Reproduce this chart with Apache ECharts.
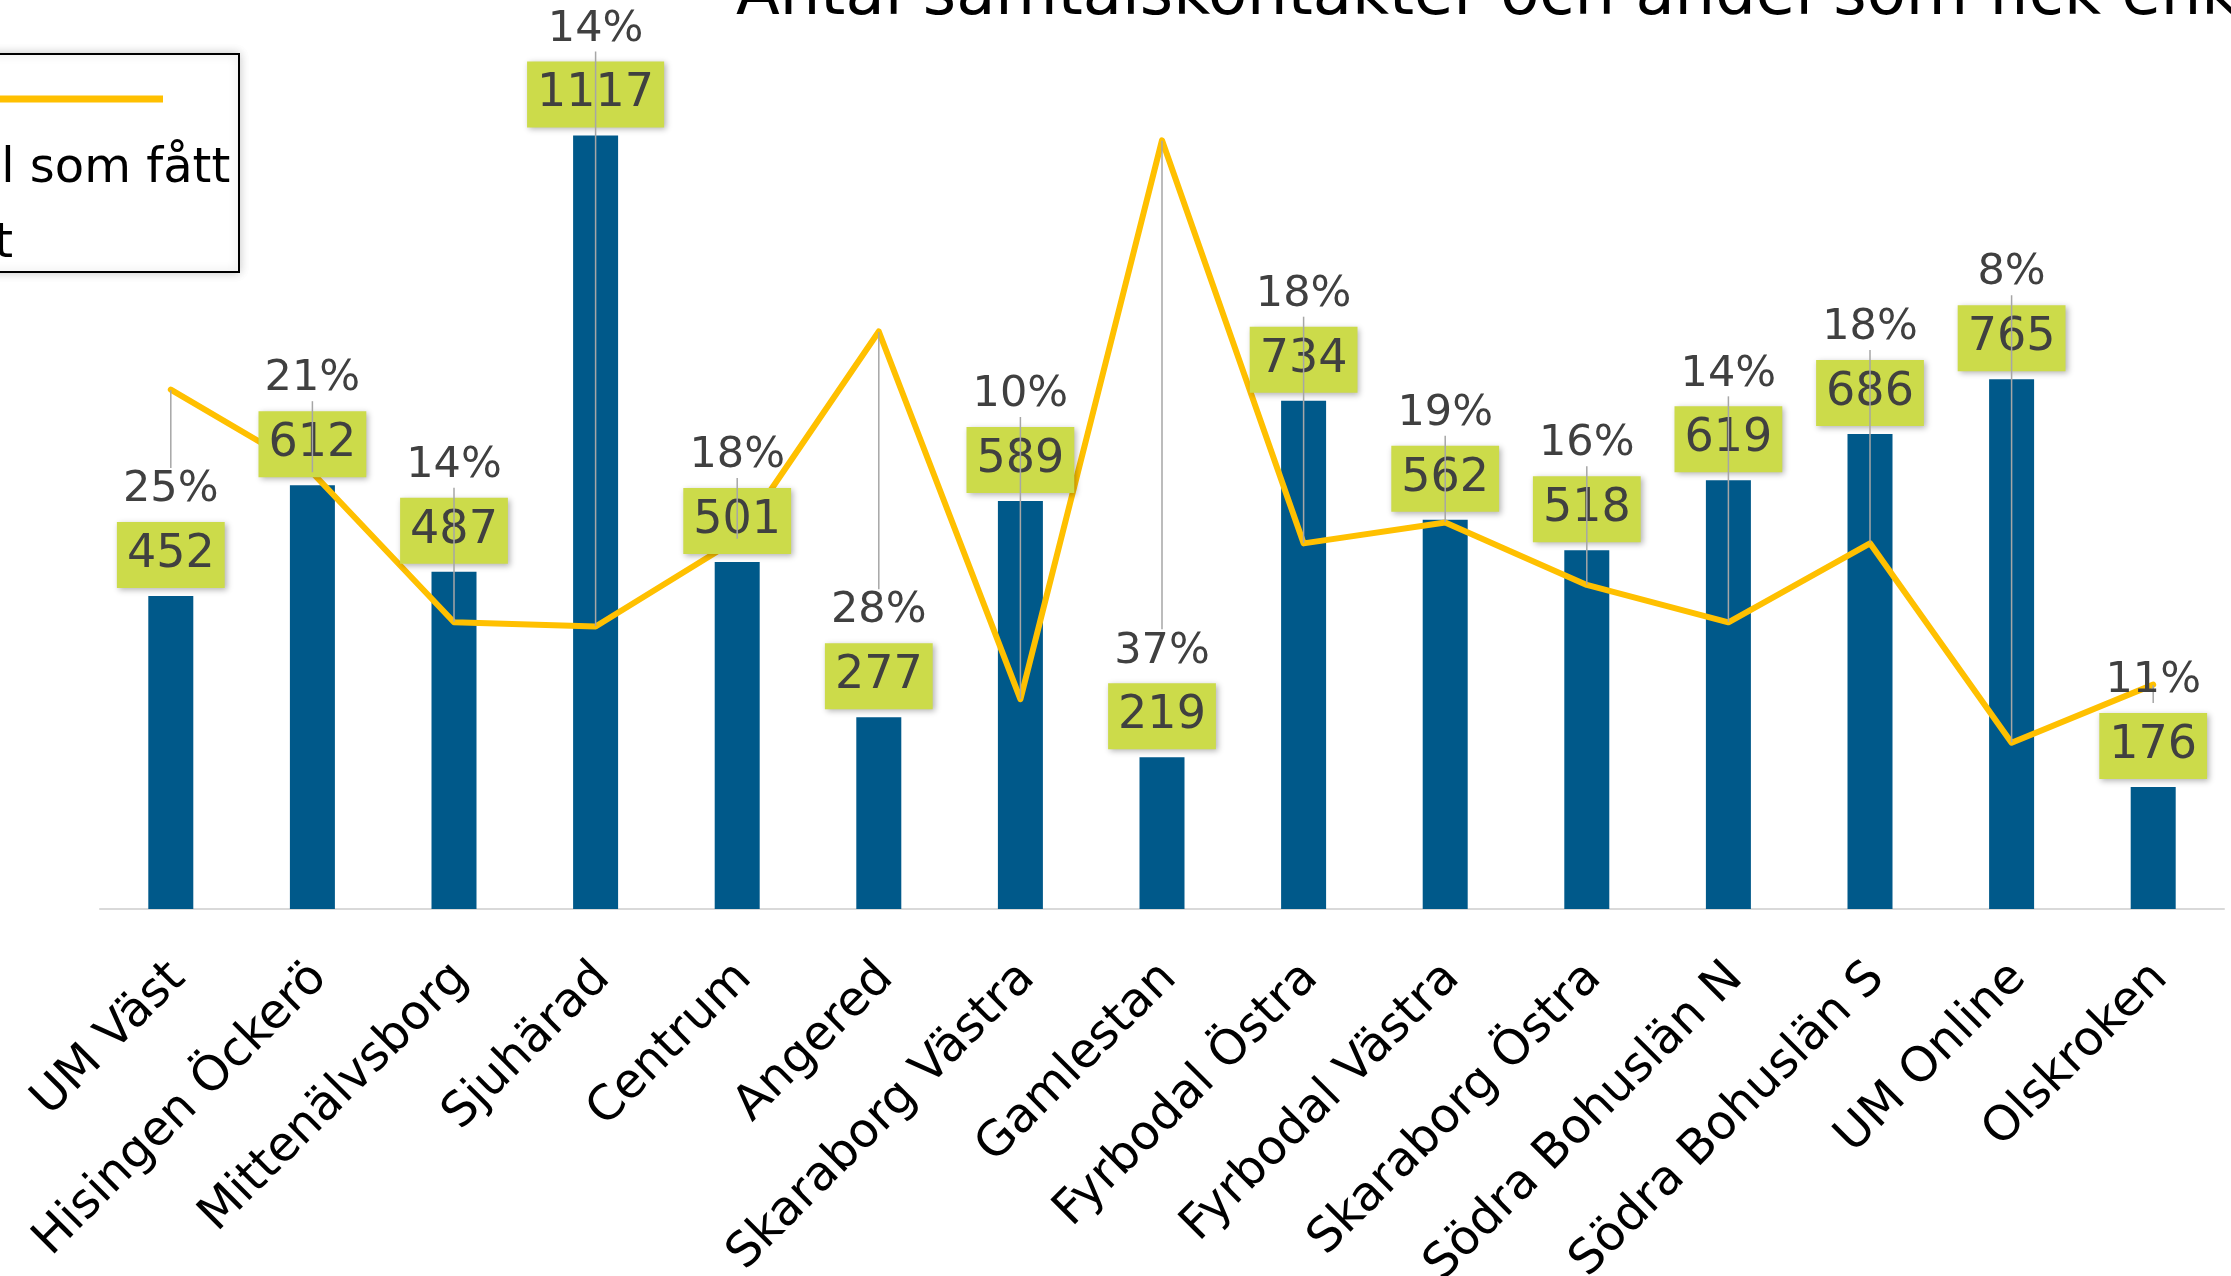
<!DOCTYPE html>
<html>
<head>
<meta charset="utf-8">
<title>Antal samtalskontakter och andel som fick enkät</title>
<script src="https://cdn.jsdelivr.net/npm/echarts@6/dist/echarts.min.js"></script>
<style>
  html, body { margin: 0; padding: 0; background: #fff; }
  #chart { width: 2231px; height: 1276px; }
</style>
</head>
<body>
<div id="chart"></div>
<script>
// kategorier (mottagningar)
var categories = ['UM Väst', 'Hisingen Öckerö', 'Mittenälvsborg', 'Sjuhärad', 'Centrum', 'Angered',
    'Skaraborg Västra', 'Gamlestan', 'Fyrbodal Östra', 'Fyrbodal Västra', 'Skaraborg Östra',
    'Södra Bohuslän N', 'Södra Bohuslän S', 'UM Online', 'Olskroken'];

// antal samtalskontakter
var samtal = [452, 612, 487, 1117, 501, 277, 589, 219, 734, 562, 518, 619, 686, 765, 176];

// andel som fått enkät
var andel = [0.25, 0.21, 0.138, 0.136, 0.178, 0.278, 0.101, 0.37, 0.176, 0.186, 0.156, 0.138, 0.176, 0.08, 0.108];

var font = 'DejaVu Sans';
var chart = echarts.init(document.getElementById('chart'));

chart.setOption({
    animation: false,
    backgroundColor: '#fff',
    textStyle: { fontFamily: font },
    title: {
        text: 'Antal samtalskontakter och andel som fick enkät',
        left: 736,
        top: -35,
        padding: 0,
        textStyle: { fontFamily: font, fontSize: 64, fontWeight: 'normal', color: '#000' }
    },
    grid: { left: 100, right: 7, top: 78, bottom: 367, outerBoundsMode: 'none' },
    xAxis: {
        type: 'category',
        data: categories,
        axisTick: { show: false },
        axisLine: { lineStyle: { color: '#D9D9D9', width: 2 } },
        axisLabel: {
            interval: 0,
            rotate: 45,
            margin: 35,
            padding: [0, 14, 0, 0],
            verticalAlign: 'top',
            fontSize: 48,
            color: '#000',
            fontFamily: font
        }
    },
    yAxis: [
        { type: 'value', min: 0, max: 1200, show: false, splitLine: { show: false } },
        { type: 'value', min: 0, max: 0.4, show: false, splitLine: { show: false } }
    ],
    series: [
        {
            name: 'Antal samtalskontakter',
            type: 'bar',
            data: samtal,
            barWidth: 45,
            barGap: '-100%',
            z: 2,
            silent: true,
            itemStyle: { color: '#00598A' }
        },
        {
            name: 'Andel som fått enkät',
            type: 'line',
            yAxisIndex: 1,
            data: andel,
            showSymbol: false,
            z: 3,
            silent: true,
            lineStyle: { color: '#FFC000', width: 6, join: 'round', cap: 'round' }
        },
        {
            // bara etiketter ovanför staplarna (ligger över linjen)
            name: 'etikett',
            type: 'bar',
            data: samtal,
            barWidth: 45,
            barGap: '-100%',
            z: 4,
            silent: true,
            itemStyle: { color: 'rgba(0,0,0,0)' },
            label: {
                show: true,
                position: 'top',
                distance: 8,
                fontSize: 46,
                lineHeight: 56,
                color: '#404040',
                fontFamily: font,
                backgroundColor: '#CCDB4A',
                padding: [5, 10],
                shadowColor: 'rgba(0,0,0,0.3)',
                shadowBlur: 6,
                shadowOffsetX: 2,
                shadowOffsetY: 2
            }
        },
        {
            // procentetiketter med hänvisningslinjer
            name: 'andel-etikett',
            type: 'scatter',
            yAxisIndex: 1,
            data: andel,
            symbolSize: 1,
            z: 5,
            silent: true,
            itemStyle: { color: 'rgba(0,0,0,0)', opacity: 1 },
            label: {
                show: true,
                position: 'top',
                fontSize: 43,
                lineHeight: 44,
                color: '#404040',
                fontFamily: font,
                formatter: function (p) {
                    return Math.round(p.value * 100) + '%';
                }
            },
            labelLine: {
                show: true,
                length2: 0,
                lineStyle: { color: '#A6A6A6', width: 1.5, opacity: 1 }
            },
            labelLayout: function (params) {
                var i = params.dataIndex;
                var p = chart.convertToPixel({ seriesIndex: 0 }, [i, samtal[i]]);
                return { x: p[0], y: p[1] - 106, align: 'center', verticalAlign: 'middle' };
            }
        }
    ],
    graphic: [
        {
            type: 'rect',
            shape: { x: -300, y: 54, width: 539, height: 218 },
            style: { fill: '#fff', stroke: '#000', lineWidth: 2, shadowBlur: 10, shadowColor: 'rgba(0,0,0,0.2)' },
            z: 10
        },
        {
            type: 'line',
            shape: { x1: -250, y1: 99, x2: 163, y2: 99 },
            style: { stroke: '#FFC000', lineWidth: 7 },
            z: 11
        },
        {
            type: 'text',
            x: -122,
            y: 132,
            style: {
                text: 'Andel som fått\nenkät',
                fontFamily: font,
                fontSize: 48,
                lineHeight: 75,
                fill: '#000',
                verticalAlign: 'top'
            },
            z: 11
        }
    ]
});
</script>
</body>
</html>
